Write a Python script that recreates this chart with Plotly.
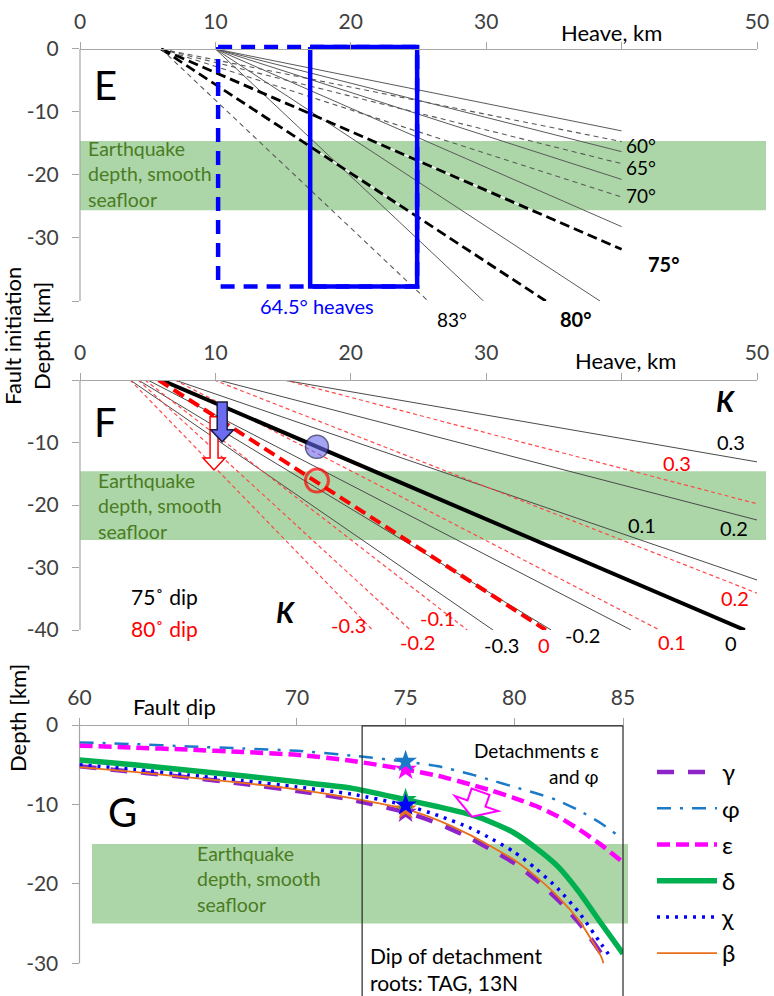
import plotly.graph_objects as go

FONT = "Lato, 'Noto Sans', 'DejaVu Sans', sans-serif"
W, H = 774, 996

# ---------------- Panel E data ----------------
e_dips = [60, 65, 70, 75, 80, 83]
e_solid_origin = 10.0
e_dash_origin = 6.0
e_solid_end_x = [40.0, 40.0, 40.0, 40.0, 38.4, 29.8]
e_solid_end_y = [-13.0, -16.3, -20.7, -28.2, -40.0, -40.0]
e_dash_end_x = [40.0, 40.0, 40.0, 40.0, 34.4, 25.7]
e_dash_end_y = [-14.7, -18.2, -23.5, -31.8, -40.0, -40.0]
e_labels = ["60°", "65°", "70°", "75°", "80°", "83°"]
e_label_x = [41.4, 41.4, 41.4, 43.1, 36.6, 27.5]
e_label_y = [-15.3, -18.8, -23.3, -34.2, -42.8, -43.0]
e_label_bold = [False, False, False, True, True, False]
heave_box_left = [10.2, 17.0]      # dashed box, solid box
heave_box_right = 24.9
heave_box_top = 0.3
heave_box_bottom = -37.7

quake_band_EF = [-14.6, -25.6]
quake_band_G = [-15.0, -25.0]

# ---------------- Panel F data ----------------
f_K = [-0.3, -0.2, -0.1, 0.0, 0.1, 0.2, 0.3]
f75_origin = [3.7, 4.3, 5.0, 6.0, 7.0, 10.2, 15.0]
f75_end_x = [30.5, 34.8, 40.7, 49.1, 50.0, 50.0, 50.0]
f75_end_y = [-40.0, -40.0, -40.0, -40.0, -32.0, -22.4, -13.1]
f80_origin = [3.7, 4.3, 4.8, 5.8, 7.0, 9.9, 15.1]
f80_end_x = [21.6, 24.4, 28.6, 34.4, 42.8, 50.0, 50.0]
f80_end_y = [-40.0, -40.0, -40.0, -40.0, -40.0, -34.1, -19.8]
f75_lab = ["-0.3", "-0.2", "0", "0.1", "0.2", "0.3"]
f75_lab_x = [31.1, 37.1, 48.1, 41.5, 48.3, 48.1]
f75_lab_y = [-42.4, -40.8, -42.1, -23.2, -23.7, -9.9]
f80_lab = ["-0.3", "-0.2", "-0.1", "0", "0.1", "0.2", "0.3"]
f80_lab_x = [19.8, 24.9, 26.4, 34.3, 43.7, 48.4, 44.1]
f80_lab_y = [-39.2, -41.9, -38.1, -42.4, -41.9, -34.9, -13.3]
f_circle_x = [17.5, 17.5]
f_circle_y = [-10.7, -16.1]

# ---------------- Panel G data ----------------
g_dip = [60, 62.5, 65, 67.5, 70, 72.5, 75, 76.5, 78, 79, 80, 81, 82, 83, 84, 85]
g_dip_chi = [60, 62.5, 65, 67.5, 70, 72.5, 75, 76.5, 78, 79, 80, 81, 82, 83, 84, 84.5]
g_dip_gamma = [60, 62.5, 65, 67.5, 70, 72.5, 75, 76.5, 78, 79, 80, 81, 82, 83, 84, 84.25]
g_dip_beta = [60, 62.5, 65, 67.5, 70, 72.5, 75, 76.5, 78, 79, 80, 81, 82, 83, 84, 84.1]
g_gamma = [-5.2, -5.9, -6.6, -7.4, -8.3, -9.4, -11.0, -12.4, -14.3, -15.8, -17.4, -19.5, -22.0, -25.0, -28.8, -30.0]
g_phi = [-2.2, -2.4, -2.7, -2.95, -3.25, -3.85, -4.6, -5.2, -6.2, -7.0, -7.8, -8.6, -9.5, -10.8, -12.4, -14.4]
g_eps = [-2.6, -2.85, -3.1, -3.4, -3.75, -4.5, -5.6, -6.4, -7.5, -8.3, -9.2, -10.2, -11.5, -13.2, -15.1, -17.3]
g_delta = [-4.4, -5.0, -5.7, -6.4, -7.15, -7.95, -9.4, -10.3, -11.3, -12.3, -13.6, -15.5, -17.8, -21.1, -25.0, -28.8]
g_chi = [-5.0, -5.6, -6.3, -7.0, -7.8, -8.7, -10.1, -11.4, -13.0, -14.4, -16.0, -18.1, -20.6, -23.7, -27.6, -29.5]
g_beta = [-5.3, -5.9, -6.6, -7.3, -8.1, -9.2, -10.6, -12.0, -13.9, -15.4, -17.0, -19.1, -21.6, -24.7, -29.2, -30.0]
g_star_dip = 75
g_box_dips = [73.0, 85.0]

# ---------------- layout geometry (pixels) ----------------
PANELS = {
    "E": dict(xr=(0, 50), xpx=(80, 757), yr=(-40, 0.9), ypx=(301, 43.3), ax="", zero_px=49),
    "F": dict(xr=(0, 50), xpx=(80, 757), yr=(-40, 0), ypx=(630, 380), ax="2", zero_px=380),
    "G": dict(xr=(60, 85), xpx=(79.5, 623), yr=(-34, 0), ypx=(995, 725), ax="3", zero_px=725),
}


def to_px(panel, x, y):
    p = PANELS[panel]
    (x0, x1), (px0, px1) = p["xr"], p["xpx"]
    (y0, y1), (py0, py1) = p["yr"], p["ypx"]
    return (px0 + (x - x0) / (x1 - x0) * (px1 - px0),
            py0 + (y - y0) / (y1 - y0) * (py1 - py0))


def to_paper(panel, x, y):
    X, Y = to_px(panel, x, y)
    return X / W, 1 - Y / H


fig = go.Figure()


def line(panel, xs, ys, color, width, dash=None, name=None, legend=False, shape="linear"):
    ax = PANELS[panel]["ax"]
    fig.add_trace(go.Scatter(
        x=xs, y=ys, mode="lines", xaxis="x" + ax, yaxis="y" + ax,
        line=dict(color=color, width=width, dash=dash, shape=shape, smoothing=0.6),
        hoverinfo="skip", showlegend=legend, name=name,
        legendgroup=name if legend else None))


annotations = []


def text(panel, x, y, s, size=20, color="black", xanchor="center",
         yanchor="middle", angle=0, align="left"):
    if panel:
        px, py = to_paper(panel, x, y)
    else:
        px, py = x / W, 1 - y / H
    annotations.append(dict(
        x=px, y=py, xref="paper", yref="paper", text=s, showarrow=False,
        xanchor=xanchor, yanchor=yanchor, textangle=angle, align=align,
        font=dict(family=FONT, size=size, color=color)))


shapes = []


def band(panel, yb, x_px):
    _, ytop = to_paper(panel, 0, yb[0])
    _, ybot = to_paper(panel, 0, yb[1])
    shapes.append(dict(type="rect", xref="paper", yref="paper",
                       x0=x_px[0] / W, x1=x_px[1] / W, y0=ybot, y1=ytop,
                       fillcolor="rgb(172,214,167)", line=dict(width=0), layer="below"))


def left_axis_line(panel, ybottom):
    x0, y0 = to_paper(panel, PANELS[panel]["xr"][0], 0)
    _, y1 = to_paper(panel, PANELS[panel]["xr"][0], ybottom)
    shapes.append(dict(type="line", xref="paper", yref="paper", x0=x0, x1=x0, y0=y1, y1=y0,
                       line=dict(color="#a6a6a6", width=1.2), layer="below"))


def block_arrow(panel, tail, tip, shaft_w, head_w, head_len, fill, lcolor, lw):
    tx, ty = to_px(panel, *tail)
    hx, hy = to_px(panel, *tip)
    dx, dy = hx - tx, hy - ty
    L = (dx * dx + dy * dy) ** 0.5
    ux, uy = dx / L, dy / L
    nx, ny = -uy, ux
    bx, by = hx - ux * head_len, hy - uy * head_len
    pts = [
        (tx + nx * shaft_w / 2, ty + ny * shaft_w / 2),
        (bx + nx * shaft_w / 2, by + ny * shaft_w / 2),
        (bx + nx * head_w / 2, by + ny * head_w / 2),
        (hx, hy),
        (bx - nx * head_w / 2, by - ny * head_w / 2),
        (bx - nx * shaft_w / 2, by - ny * shaft_w / 2),
        (tx - nx * shaft_w / 2, ty - ny * shaft_w / 2),
    ]
    path = "M " + " L ".join("%.4f,%.4f" % (X / W, 1 - Y / H) for X, Y in pts) + " Z"
    shapes.append(dict(type="path", xref="paper", yref="paper", path=path,
                       fillcolor=fill, line=dict(color=lcolor, width=lw), layer="above"))


# ================= Panel E =================
band("E", quake_band_EF, (80, 766))
left_axis_line("E", -40)
for i in range(len(e_dips)):
    line("E", [e_solid_origin, e_solid_end_x[i]], [0, e_solid_end_y[i]], "#5a5a5a", 1)
for i, d in enumerate(e_dips):
    xs, ys = [e_dash_origin, e_dash_end_x[i]], [0, e_dash_end_y[i]]
    if d in (75, 80):
        line("E", xs, ys, "white", 1.4)
        line("E", xs, ys, "black", 2.8, "10px,5px")
    else:
        line("E", xs, ys, "#5a5a5a", 1.1, "5px,4px")
for k, xl in enumerate(heave_box_left):
    line("E", [xl, heave_box_right, heave_box_right, xl, xl],
         [heave_box_top, heave_box_top, heave_box_bottom, heave_box_bottom, heave_box_top],
         "#0000ff", 4.5, "14px,9px" if k == 0 else None)
for s, x, y, b in zip(e_labels, e_label_x, e_label_y, e_label_bold):
    text("E", x, y, "<b>%s</b>" % s if b else s, size=19 if not b else 20)
text("E", 17.5, -40.8, "64.5° heaves", size=20, color="#0000ff")
text("E", 1.9, -5.7, "E", size=40)
text("E", 0.45, -19.8, "Earthquake<br>depth, smooth<br>seafloor", size=19.5,
     color="#4a7c23", xanchor="left")

# ================= Panel F =================
band("F", quake_band_EF, (80, 766))
left_axis_line("F", -40)
for i, k in enumerate(f_K):
    if k != 0:
        line("F", [f75_origin[i], f75_end_x[i]], [0, f75_end_y[i]], "#4a4a4a", 1)
for i, k in enumerate(f_K):
    if k != 0:
        line("F", [f80_origin[i], f80_end_x[i]], [0, f80_end_y[i]], "#ff4a4a", 1.2, "4px,3px")
i0 = f_K.index(0.0)
line("F", [f75_origin[i0], f75_end_x[i0]], [0, f75_end_y[i0]], "black", 4)
line("F", [f80_origin[i0], f80_end_x[i0]], [0, f80_end_y[i0]], "#ff0000", 4, "12px,6px")
fig.add_trace(go.Scatter(
    x=f_circle_x, y=f_circle_y, mode="markers", xaxis="x2", yaxis="y2",
    marker=dict(size=[23, 23], color=["rgba(105,105,240,0.85)", "rgba(0,0,0,0)"],
                line=dict(color=["#1c1c50", "#ff0000"], width=[1.5, 3])),
    hoverinfo="skip", showlegend=False))
block_arrow("F", (9.9, -5.9), (9.9, -14.4), 8, 22, 12, "white", "#ff0000", 1.5)
block_arrow("F", (10.5, -3.5), (10.5, -9.9), 10, 23, 12, "#6c6cf2", "#1c1c40", 1.5)
for s, x, y in zip(f75_lab, f75_lab_x, f75_lab_y):
    text("F", x, y, s, size=20)
for s, x, y in zip(f80_lab, f80_lab_x, f80_lab_y):
    text("F", x, y, s, size=20, color="#ff0000")
text("F", 47.7, -3.3, "<b><i>K</i></b>", size=28)
text("F", 15.2, -37.1, "<b><i>K</i></b>", size=28)
text("F", 3.6, -34.7, "75˚ dip", size=21, xanchor="left")
text("F", 3.6, -39.7, "80˚ dip", size=21, color="#ff0000", xanchor="left")
text("F", 1.9, -6.8, "F", size=40)
text("F", 1.2, -20.1, "Earthquake<br>depth, smooth<br>seafloor", size=19.5,
     color="#4a7c23", xanchor="left")

# ================= Panel G =================
band("G", quake_band_G, (92, 628))
bx0, _ = to_paper("G", g_box_dips[0], 0)
bx1, _ = to_paper("G", g_box_dips[1], 0)
_, btop = to_paper("G", 0, -0.1)
shapes.append(dict(type="rect", xref="paper", yref="paper", x0=bx0, x1=bx1,
                   y0=-0.01, y1=btop, line=dict(color="#262626", width=1.2), layer="above"))
left_axis_line("G", -30)

series = [
    ("γ", g_dip_gamma, g_gamma, "#8e24c8", 4.5, "17px,14px"),
    ("φ", g_dip, g_phi, "#1a7ac8", 2.5, "14px,9px,3px,9px"),
    ("ε", g_dip, g_eps, "#ff00ff", 4.5, "13px,6px"),
    ("δ", g_dip, g_delta, "#00b050", 5.5, None),
    ("χ", g_dip_chi, g_chi, "#0000ff", 3.5, "3px,6px"),
    ("β", g_dip_beta, g_beta, "#e8701c", 1.8, None),
]
for name, xs, ys, c, w, d in series:
    line("G", xs, ys, c, w, d, name=name, legend=True, shape="spline")

star_colors = {"φ": "#1a7ac8", "ε": "#ff00ff", "δ": "#00b050", "χ": "#0000ff",
               "β": "#e8701c", "γ": "#8e24c8"}
sx, sy, sc = [], [], []
for nm in ["γ", "β", "δ", "χ", "ε", "φ"]:
    for name, xs, ys, c, w, d in series:
        if name == nm:
            sx.append(g_star_dip)
            sy.append(ys[xs.index(g_star_dip)])
            sc.append(star_colors[nm])
fig.add_trace(go.Scatter(x=sx, y=sy, mode="markers", xaxis="x3", yaxis="y3",
                         marker=dict(symbol="star", size=17, color=sc, line=dict(width=0)),
                         hoverinfo="skip", showlegend=False))
block_arrow("G", (78.45, -8.4), (78.05, -11.55), 19, 46, 14, "white", "#ff00ff", 2)
text("G", 84.0, -3.2, "Detachments ε", size=19, xanchor="right")
text("G", 84.0, -6.5, "and φ", size=19, xanchor="right")
text(None, 368, 955, "Dip of detachment", size=21, xanchor="left")
text(None, 368, 982, "roots: TAG, 13N", size=21, xanchor="left")
text("G", 62.0, -11.0, "G", size=40)
text(None, 195, 879, "Earthquake<br>depth, smooth<br>seafloor", size=19.5,
     color="#4a7c23", xanchor="left")

# ---------------- axis titles ----------------
text(None, 611, 33, "Heave, km", size=22)
text(None, 625, 360, "Heave, km", size=22)
text(None, 174, 706, "Fault dip", size=22)
text(None, 27, 336, "Fault initiation<br>Depth [km]", size=22, angle=-90, align="center")
text(None, 17, 718, "Depth [km]", size=22, angle=-90)


def xaxis(panel, tickvals, ticktext):
    p = PANELS[panel]
    return dict(domain=[p["xpx"][0] / W, p["xpx"][1] / W], range=list(p["xr"]),
                anchor="free", position=1 - p["zero_px"] / H, side="top",
                showline=True, linecolor="#a6a6a6", automargin=False,
                linewidth=1.2, ticks="outside", ticklen=7, tickcolor="#a6a6a6",
                tickvals=tickvals, ticktext=ticktext, showgrid=False, zeroline=False,
                tickfont=dict(family=FONT, size=21, color="#404040"),
                ticklabelstandoff=5, fixedrange=True)


def yaxis(panel, tickvals, ticktext):
    p = PANELS[panel]
    return dict(domain=[1 - p["ypx"][0] / H, 1 - p["ypx"][1] / H], range=list(p["yr"]),
                anchor="x" + p["ax"], showline=False, automargin=False,
                ticks="outside", ticklen=7, tickcolor="#a6a6a6",
                tickvals=tickvals, ticktext=ticktext, showgrid=False, zeroline=False,
                tickfont=dict(family=FONT, size=21, color="#404040"),
                ticklabelstandoff=9, fixedrange=True)


xt = [0, 10, 20, 30, 40, 50]
xtt = ["0", "10", "20", "30", "", "50"]
fig.update_layout(
    width=W, height=H, margin=dict(l=0, r=0, t=0, b=0, autoexpand=False),
    paper_bgcolor="white", plot_bgcolor="rgba(0,0,0,0)",
    font=dict(family=FONT, color="black"),
    xaxis=xaxis("E", xt, xtt),
    yaxis=yaxis("E", [0, -10, -20, -30, -40], ["0", "-10", "-20", "-30", ""]),
    xaxis2=xaxis("F", xt, xtt),
    yaxis2=yaxis("F", [0, -10, -20, -30, -40], ["", "-10", "-20", "-30", "-40"]),
    xaxis3=xaxis("G", [60, 65, 70, 75, 80, 85], ["60", "", "70", "75", "80", "85"]),
    yaxis3=yaxis("G", [0, -10, -20, -30], ["0", "-10", "-20", "-30"]),
    legend=dict(x=652 / W, y=1 - 750 / H, xanchor="left", yanchor="top",
                font=dict(family=FONT, size=24, color="black"), itemwidth=60,
                tracegroupgap=2, bgcolor="rgba(0,0,0,0)"),
    annotations=annotations, shapes=shapes,
)

fig.write_html("out.html", config={"displayModeBar": False},
               post_script="document.body.style.margin='0';document.body.style.overflow='hidden';")
